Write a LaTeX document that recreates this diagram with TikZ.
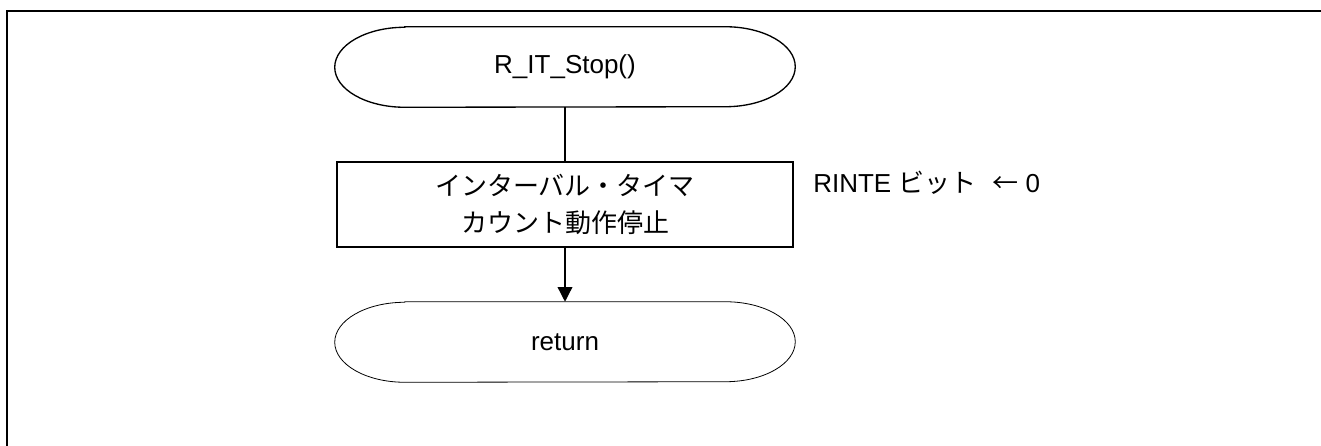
\documentclass[tikz,border=0pt]{standalone}
\usepackage{fontspec}
\setmainfont{Liberation Sans}
\newfontfamily\jp{Noto Sans CJK JP}
\usetikzlibrary{arrows.meta}
\newcommand\termshape[2]{%
  \draw[line width=#2] ([xshift=52.5pt]#1.north west) -- ([xshift=-52.5pt]#1.north east)
    arc[start angle=90,end angle=-90,x radius=52.5pt,y radius=30pt]
    -- ([xshift=52.5pt]#1.south west)
    arc[start angle=270,end angle=90,x radius=52.5pt,y radius=30pt] -- cycle;}
\begin{document}
\begin{tikzpicture}[x=0.75pt,y=-0.75pt,
  font=\fontsize{19.5}{27.75}\selectfont,
  term/.style={minimum width=345pt, minimum height=60pt, inner sep=0pt},
  procbox/.style={draw, line width=1pt, minimum width=342pt, minimum height=63.75pt,
    align=center, inner sep=0pt, font=\fontsize{19.5}{27.75}\selectfont\jp},
  conn/.style={line width=1pt},
  arr/.style={line width=1pt, -{Triangle[length=11pt,width=11pt]}}
]
\useasboundingbox (0,0) rectangle (1321,446);
\draw[line width=2pt] (7,450) -- (7,11) -- (1325,11);
\node[term] (start) at (565,67) {R\_IT\_Stop()};
\termshape{start}{1pt}
\node[procbox] (proc) at (565,204.5) {インターバル・タイマ\\カウント動作停止};
\node[term] (ret) at (565,342) {return};
\termshape{ret}{0.6pt}
\node[anchor=base west, inner sep=0pt] (note) at (813,192) {RINTE {\jp ビット}\hspace{12pt}{\jp ←} 0};
\draw[conn] (start) -- (proc);
\draw[arr] (proc) -- (ret);
\end{tikzpicture}
\end{document}
